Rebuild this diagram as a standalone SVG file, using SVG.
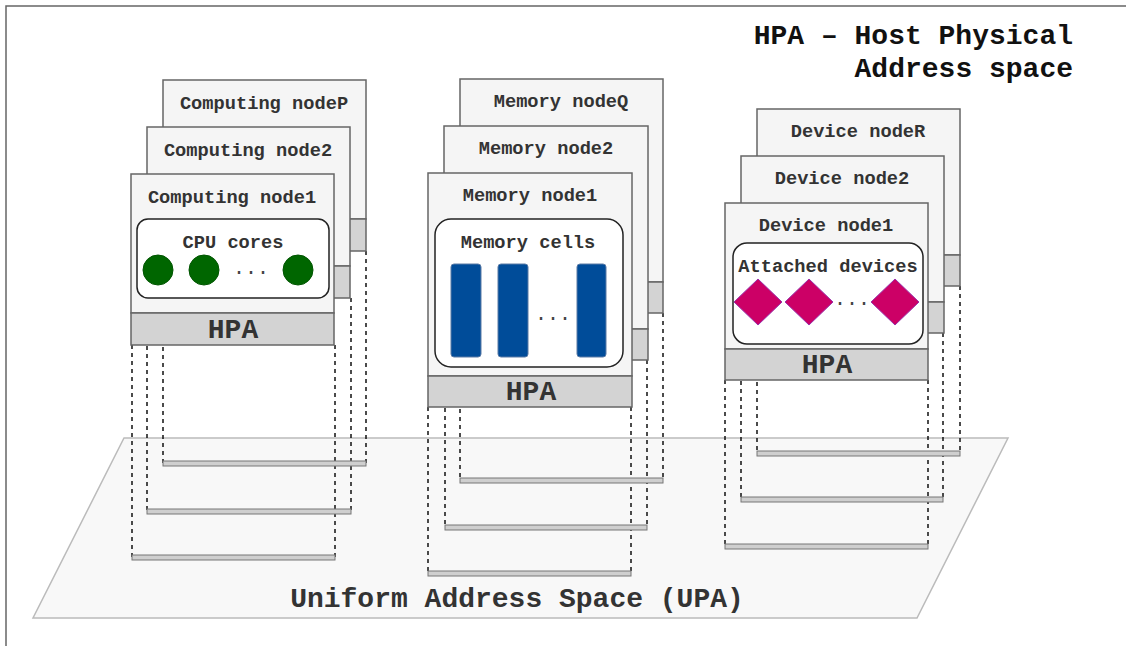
<svg xmlns="http://www.w3.org/2000/svg" width="1126" height="646" viewBox="0 0 1126 646">
<style>
.t{font-family:"Liberation Mono","Courier New",monospace;font-weight:bold;fill:#333;text-anchor:middle}
.title{font-size:18.7px}
.big{font-size:28px}
.body{fill:#f5f5f5;stroke:#666;stroke-width:1.5}
.bar{fill:#d3d3d3;stroke:#666;stroke-width:1.5}
.inner{fill:#fff;stroke:#222;stroke-width:1.5}
.dash{stroke:#111;stroke-width:1.5;stroke-dasharray:4 4;fill:none}
.upa{fill:#cfcfcf;stroke:#777;stroke-width:1}
.core{fill:#006600;stroke:#005500}
.cell{fill:#004c99;stroke:#5a7aa5;stroke-width:1}
.dev{fill:#cc0066;stroke:#9933aa;stroke-width:1}
.dots{font-family:"Liberation Mono",monospace;font-size:20px;fill:#444;text-anchor:middle}
</style>
<rect x="6" y="6" width="1140" height="660" fill="#fff" stroke="#666" stroke-width="1.5"/>
<g id="upa-plane">
<polygon points="124,438 1008,438 917,618 33,618" fill="#f8f8f8" stroke="#bbb" stroke-width="1.5"/>
<text class="t big" x="517" y="607">Uniform Address Space (UPA)</text>
</g>
<g id="legend">
<text class="t big" x="1073" y="44" style="text-anchor:end;fill:#111">HPA – Host Physical</text>
<text class="t big" x="1073" y="77" style="text-anchor:end;fill:#111">Address space</text>
</g>
<g id="connectors">
<line class="dash" x1="163" y1="251" x2="163" y2="463"/><line class="dash" x1="366" y1="251" x2="366" y2="463"/>
<line class="dash" x1="147" y1="298" x2="147" y2="511"/><line class="dash" x1="351" y1="298" x2="351" y2="511"/>
<line class="dash" x1="132" y1="345" x2="132" y2="557"/><line class="dash" x1="335" y1="345" x2="335" y2="557"/>
<line class="dash" x1="460" y1="313" x2="460" y2="480"/><line class="dash" x1="663" y1="313" x2="663" y2="480"/>
<line class="dash" x1="445" y1="360" x2="445" y2="527"/><line class="dash" x1="647" y1="360" x2="647" y2="527"/>
<line class="dash" x1="428" y1="407" x2="428" y2="573"/><line class="dash" x1="631" y1="407" x2="631" y2="573"/>
<line class="dash" x1="757" y1="286" x2="757" y2="453"/><line class="dash" x1="960" y1="286" x2="960" y2="453"/>
<line class="dash" x1="741" y1="333" x2="741" y2="499"/><line class="dash" x1="943" y1="333" x2="943" y2="499"/>
<line class="dash" x1="725" y1="380" x2="725" y2="546"/><line class="dash" x1="928" y1="380" x2="928" y2="546"/>
<rect class="upa" x="163" y="461" width="203" height="5"/>
<rect class="upa" x="147" y="509" width="204" height="5"/>
<rect class="upa" x="132" y="555" width="203" height="5"/>
<rect class="upa" x="460" y="478" width="203" height="5"/>
<rect class="upa" x="445" y="525" width="202" height="5"/>
<rect class="upa" x="428" y="571" width="203" height="5"/>
<rect class="upa" x="757" y="451" width="203" height="5"/>
<rect class="upa" x="741" y="497" width="202" height="5"/>
<rect class="upa" x="725" y="544" width="203" height="5"/>
</g>
<g id="computing-nodeP">
<rect class="body" x="163" y="80" width="203" height="139"/>
<rect class="bar" x="163" y="219" width="203" height="32"/>
<text class="t title" x="264" y="109">Computing nodeP</text>
</g>
<g id="computing-node2">
<rect class="body" x="147" y="127" width="203" height="139"/>
<rect class="bar" x="147" y="266" width="203" height="32"/>
<text class="t title" x="248" y="156">Computing node2</text>
</g>
<g id="computing-node1">
<rect class="body" x="131" y="174" width="203" height="139"/>
<rect class="bar" x="131" y="313" width="203" height="32"/>
<text class="t title" x="232" y="203">Computing node1</text>
<rect class="inner" x="137" y="219" width="192" height="79" rx="11"/>
<text class="t title" x="233" y="248">CPU cores</text>
<circle class="core" cx="158" cy="270" r="15"/>
<circle class="core" cx="204" cy="270" r="15"/>
<circle class="core" cx="298" cy="270" r="15"/>
<text class="dots" x="251" y="274">...</text>
<text class="t big" x="233" y="338">HPA</text>
</g>
<g id="memory-nodeQ">
<rect class="body" x="460" y="79" width="203" height="203"/>
<rect class="bar" x="460" y="282" width="203" height="31"/>
<text class="t title" x="561" y="107">Memory nodeQ</text>
</g>
<g id="memory-node2">
<rect class="body" x="444" y="126" width="204" height="203"/>
<rect class="bar" x="444" y="329" width="204" height="31"/>
<text class="t title" x="546" y="154">Memory node2</text>
</g>
<g id="memory-node1">
<rect class="body" x="428" y="173" width="204" height="203"/>
<rect class="bar" x="428" y="376" width="204" height="31"/>
<text class="t title" x="530" y="201">Memory node1</text>
<rect class="inner" x="435" y="219" width="188" height="148" rx="16"/>
<text class="t title" x="528" y="248">Memory cells</text>
<rect class="cell" x="451" y="264" width="30" height="93" rx="3"/>
<rect class="cell" x="498" y="264" width="30" height="93" rx="3"/>
<rect class="cell" x="577" y="264" width="29" height="93" rx="3"/>
<text class="dots" x="553" y="320">...</text>
<text class="t big" x="531" y="400">HPA</text>
</g>
<g id="device-nodeR">
<rect class="body" x="757" y="109" width="203" height="146"/>
<rect class="bar" x="757" y="255" width="203" height="31"/>
<text class="t title" x="858" y="137">Device nodeR</text>
</g>
<g id="device-node2">
<rect class="body" x="741" y="156" width="203" height="146"/>
<rect class="bar" x="741" y="302" width="203" height="31"/>
<text class="t title" x="842" y="184">Device node2</text>
</g>
<g id="device-node1">
<rect class="body" x="725" y="203" width="203" height="146"/>
<rect class="bar" x="725" y="349" width="203" height="31"/>
<text class="t title" x="826" y="231">Device node1</text>
<rect class="inner" x="733" y="243" width="190" height="101" rx="14"/>
<text class="t title" x="828" y="272">Attached devices</text>
<polygon class="dev" points="758,279 782,302 758,325 734,302"/>
<polygon class="dev" points="809,279 833,302 809,325 785,302"/>
<polygon class="dev" points="895,279 919,302 895,325 871,302"/>
<text class="dots" x="852" y="305">...</text>
<text class="t big" x="827" y="373">HPA</text>
</g>
</svg>
